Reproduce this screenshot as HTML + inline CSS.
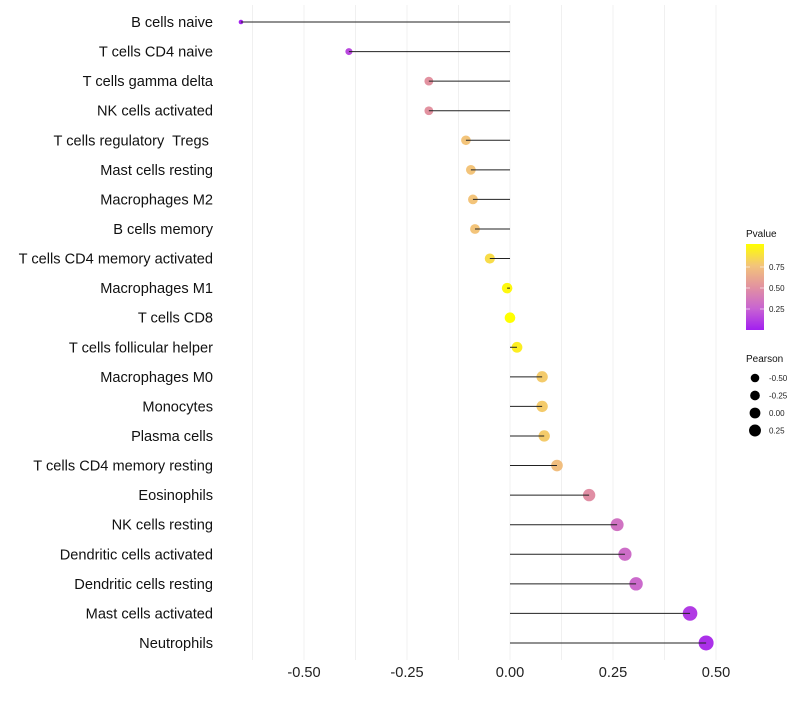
<!DOCTYPE html>
<html><head><meta charset="utf-8"><style>
body{margin:0;background:#fff;font-family:"Liberation Sans",sans-serif}
svg text{font-family:"Liberation Sans",sans-serif}
</style></head><body>
<svg id="chart" width="800" height="700" xmlns="http://www.w3.org/2000/svg">
<g id="grid"></g>
<g id="marks"></g>
<g id="ylabels"></g>
<g id="xlabels"></g>
<g id="legend"></g>
</svg>
<script>
const categories=["B cells naive","T cells CD4 naive","T cells gamma delta","NK cells activated","T cells regulatory\u00a0 Tregs\u00a0","Mast cells resting","Macrophages M2","B cells memory","T cells CD4 memory activated","Macrophages M1","T cells CD8","T cells follicular helper","Macrophages M0","Monocytes","Plasma cells","T cells CD4 memory resting","Eosinophils","NK cells resting","Dendritic cells activated","Dendritic cells resting","Mast cells activated","Neutrophils"];
const pearson=[-0.653,-0.391,-0.197,-0.197,-0.107,-0.095,-0.090,-0.085,-0.049,-0.007,0.0,0.017,0.078,0.078,0.083,0.114,0.192,0.260,0.279,0.306,0.437,0.476];
const pvalues=[0.01,0.15,0.5,0.5,0.75,0.75,0.75,0.75,0.85,0.97,1.0,0.93,0.78,0.78,0.78,0.72,0.48,0.33,0.3,0.28,0.1,0.06];
const xTicks=[-0.5,-0.25,0,0.25,0.5];
const xTickLabels=["-0.50","-0.25","0.00","0.25","0.50"];
const legendP=[0.75,0.5,0.25];
const legendSizes=[-0.5,-0.25,0,0.25];
const legendSizeLabels=["-0.50","-0.25","0.00","0.25"];

const NS="http://www.w3.org/2000/svg";
const x=v=>510+v*412;
const y=i=>22+i*29.57;
const r=p=>Math.max(1.8,5.3+4.6*p);
const stops=[[0,[162,31,240]],[0.25,[200,100,210]],[0.5,[226,146,160]],[0.75,[243,196,122]],[1,[255,255,0]]];
function col(p){for(let i=1;i<stops.length;i++){if(p<=stops[i][0]){const a=stops[i-1],b=stops[i];const t=(p-a[0])/(b[0]-a[0]);const c=a[1].map((v,k)=>Math.round(v+(b[1][k]-v)*t));return `rgb(${c.join(',')})`;}}return 'rgb(255,255,0)';}
function mk(tag,attrs,parent){const e=document.createElementNS(NS,tag);for(const k in attrs)e.setAttribute(k,attrs[k]);parent.appendChild(e);return e;}
const grid=document.getElementById('grid'),marks=document.getElementById('marks'),yl=document.getElementById('ylabels'),xl=document.getElementById('xlabels'),lg=document.getElementById('legend');
for(let v=-0.625;v<=0.51;v+=0.125){const g=mk('line',{x1:x(v),x2:x(v),y1:5,y2:660,stroke:'#f0f0f0','stroke-width':1},grid);

}
categories.forEach((c,i)=>{
const pt=mk('circle',{cx:x(pearson[i]),cy:y(i),r:r(pearson[i]),fill:col(pvalues[i])},marks);


const ln=mk('line',{x1:x(pearson[i]),x2:x(0),y1:y(i),y2:y(i),stroke:'#222','stroke-width':1},marks);


const t=mk('text',{x:213,y:y(i)+5,'text-anchor':'end','font-size':14.6,fill:'#111'},yl);t.textContent=c;


});
xTicks.forEach((v,i)=>{const t=mk('text',{x:x(v),y:677,'text-anchor':'middle','font-size':14.6,fill:'#222'},xl);t.textContent=xTickLabels[i];

});
const lt=mk('text',{x:746,y:237,'font-size':10,fill:'#111'},lg);lt.textContent='Pvalue';


const defs=mk('defs',{},lg);const gr=mk('linearGradient',{id:'pg',x1:0,y1:1,x2:0,y2:0},defs);
stops.forEach(s=>mk('stop',{offset:s[0],'stop-color':col(s[0])},gr));
const bar=mk('rect',{x:746,y:244,width:18,height:86,fill:'url(#pg)'},lg);


legendP.forEach(p=>{const yy=330-p*84;mk('line',{x1:746,x2:750,y1:yy,y2:yy,stroke:'#fff','stroke-opacity':0.6},lg);mk('line',{x1:760,x2:764,y1:yy,y2:yy,stroke:'#fff','stroke-opacity':0.6},lg);
const t=mk('text',{x:769,y:yy+3,'font-size':8,fill:'#222'},lg);t.textContent=p.toFixed(2);

});
const st=mk('text',{x:746,y:362,'font-size':10,fill:'#111'},lg);st.textContent='Pearson';


legendSizes.forEach((p,i)=>{const yy=378+i*17.5;const c=mk('circle',{cx:755,cy:yy,r:4.3+2*(p+0.5)*1.1,fill:'#000'},lg);


const t=mk('text',{x:769,y:yy+3,'font-size':8,fill:'#222'},lg);t.textContent=legendSizeLabels[i];

});
</script>
</body></html>
